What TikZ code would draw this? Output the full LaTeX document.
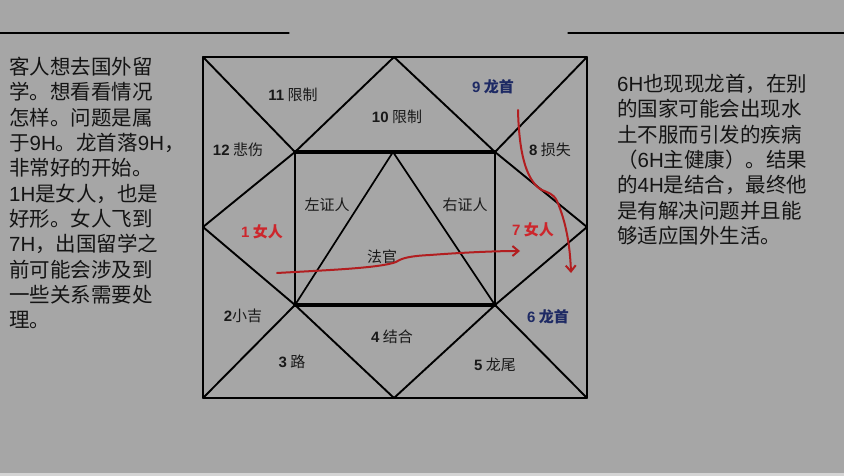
\documentclass[tikz,border=0pt]{standalone}
\usepackage{fontspec}
\setmainfont{Noto Sans CJK SC}
\newfontfamily\latfont{Liberation Sans}
\newcommand\lat[1]{{\latfont #1}}
\usetikzlibrary{arrows.meta}
\definecolor{slide}{RGB}{166,166,166}
\definecolor{slidelow}{RGB}{212,212,212}
\definecolor{inkred}{RGB}{178,30,32}
\definecolor{labred}{RGB}{205,38,44}
\definecolor{labnavy}{RGB}{30,42,100}
\tikzset{
	house/.style={font=\fontsize{15}{15}\selectfont,text=black!90,inner sep=1pt},
	girl/.style={house,text=labred,font=\fontsize{15}{15}\selectfont\bfseries},
	dragon/.style={house,text=labnavy,font=\fontsize{15}{15}\selectfont\bfseries},
	story/.style={font=\fontsize{20.5}{25.3}\selectfont,text=black!92,align=left,inner sep=0pt,anchor=north west},
	pen/.style={draw=inkred,line width=2pt}
}

\begin{document}
\begin{tikzpicture}[line cap=round,line join=round,>={Straight Barb[length=6pt,width=10pt]},x=1pt,y=-1pt]
		\useasboundingbox (0,0) rectangle (844,476);
		\fill[slide] (0,0) rectangle (844,476);
		\fill[slidelow] (0,473) rectangle (844,476);
		\draw [line width=1.2pt] (0,33)-- (289,33);
		\draw [line width=1.2pt] (568,33)-- (844,33);
		% outer square, inner box
		\coordinate (TL) at (203,57);
		\coordinate (TR) at (587,57);
		\coordinate (BR) at (587,398);
		\coordinate (BL) at (203,398);
		\coordinate (TM) at (394,57);
		\coordinate (RM) at (587,227);
		\coordinate (BM) at (394,398);
		\coordinate (LM) at (203,227);
		\coordinate (iTL) at (295,152);
		\coordinate (iTR) at (495,152);
		\coordinate (iBR) at (495,305);
		\coordinate (iBL) at (295,305);
		\coordinate (apex) at (393,152);
		\draw [line width=2.2pt] (TL)-- (TR)-- (BR)-- (BL)-- cycle;
		\draw [line width=3.2pt] (iTL)-- (iTR);
		\draw [line width=3.2pt] (iBL)-- (iBR);
		\draw [line width=2.3pt] (iTL)-- (iBL);
		\draw [line width=2.3pt] (iTR)-- (iBR);
		\draw [line width=1.9pt] (TL)-- (iTL);
		\draw [line width=1.9pt] (TR)-- (iTR);
		\draw [line width=1.9pt] (BR)-- (iBR);
		\draw [line width=1.9pt] (BL)-- (iBL);
		\draw [line width=1.9pt] (TM)-- (iTL);
		\draw [line width=1.9pt] (TM)-- (iTR);
		\draw [line width=1.9pt] (RM)-- (iTR);
		\draw [line width=1.9pt] (RM)-- (iBR);
		\draw [line width=1.9pt] (BM)-- (iBR);
		\draw [line width=1.9pt] (BM)-- (iBL);
		\draw [line width=1.9pt] (LM)-- (iBL);
		\draw [line width=1.9pt] (LM)-- (iTL);
		\draw [line width=1.7pt] (iBL)-- (apex)-- (iBR);
		% houses
		\node[house] (h11) at (293,95) {\lat{\textbf{11}} 限制};
		\node[house] (h10) at (397,117) {\lat{\textbf{10}} 限制};
		\node[dragon] (h9) at (493,87) {\lat{9} 龙首};
		\node[house] (h12) at (238,150) {\lat{\textbf{12}} 悲伤};
		\node[house] (h8) at (550,150) {\lat{\textbf{8}} 损失};
		\node[house] (wl) at (327,205) {左证人};
		\node[house] (wr) at (465,205) {右证人};
		\node[girl] (h1) at (262,232) {\lat{1} 女人};
		\node[girl] (h7) at (533,230) {\lat{7} 女人};
		\node[house] (judge) at (382,257) {法官};
		\node[house] (h2) at (243,316) {\lat{\textbf{2}}小吉};
		\node[house] (h4) at (392,337) {\lat{\textbf{4}} 结合};
		\node[house] (h3) at (292,362) {\lat{\textbf{3}} 路};
		\node[house] (h5) at (495,365) {\lat{\textbf{5}} 龙尾};
		\node[dragon] (h6) at (548,317) {\lat{6} 龙首};
		% red strokes
		\draw [pen,->] (277,273) .. controls (330,270) and (380,268) .. (396,262) .. controls (402,258) and (410,256) .. (430,255) .. controls (470,252) and (500,251) .. (520,251);
		\draw [pen,->] (518,110) .. controls (519,150) and (525,178) .. (540,189) .. controls (548,193) and (553,193) .. (557,201) .. controls (566,222) and (570,245) .. (571,273);
		% text blocks
		\node[story] (left) at (9,57) {客人想去国外留\\学。想看看情况\\怎样。问题是属\\于\lat{9H}。龙首落\lat{9H}，\\非常好的开始。\\\lat{1H}是女人，也是\\好形。女人飞到\\\lat{7H}，出国留学之\\前可能会涉及到\\一些关系需要处\\理。};
		\node[story] (right) at (617,74) {\lat{6H}也现现龙首，在别\\的国家可能会出现水\\土不服而引发的疾病\\（\lat{6H}主健康）。结果\\的\lat{4H}是结合，最终他\\是有解决问题并且能\\够适应国外生活。};
	\end{tikzpicture}
\end{document}
